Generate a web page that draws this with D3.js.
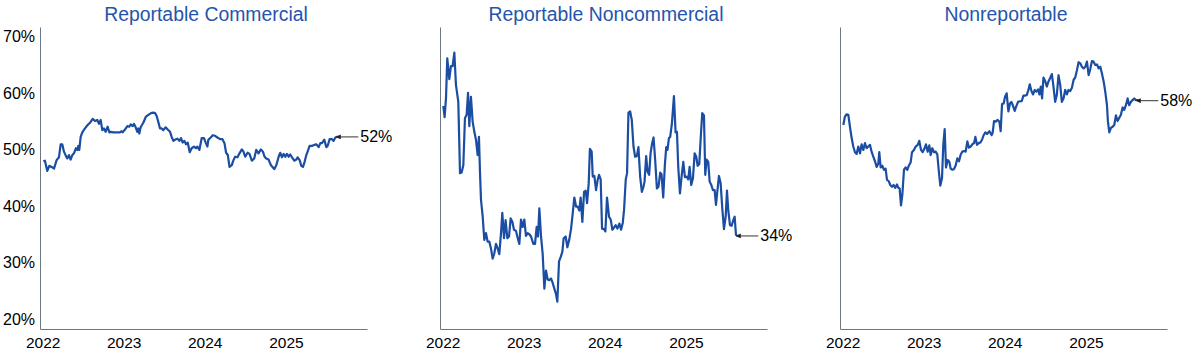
<!DOCTYPE html>
<html><head><meta charset="utf-8">
<script src="https://cdn.jsdelivr.net/npm/d3@7"></script>
<style>
body{margin:0;background:#fff}
svg{display:block;font-family:Arial,"Liberation Sans",Helvetica,sans-serif}
</style>
</head><body>
<svg id="chart" width="1201" height="355"></svg>
<script>
const panelTitles = ["Reportable Commercial", "Reportable Noncommercial", "Nonreportable"];
const yTickValues = [20, 30, 40, 50, 60, 70];
const xTickYears = [2022, 2023, 2024, 2025];
const endLabels = ["52%", "34%", "58%"];

// [decimal year, percent]
const commercial = [
[2022.008,48.4],[2022.028,48.5],[2022.057,46.7],[2022.082,47.6],[2022.111,47.4],[2022.140,47.1],[2022.172,48.6],[2022.201,49.1],
[2022.222,51.4],[2022.242,51.4],[2022.263,50.1],[2022.288,49.3],[2022.304,48.9],[2022.325,49.5],[2022.345,48.7],[2022.366,49.5],
[2022.386,49.8],[2022.411,50.7],[2022.428,50.4],[2022.440,51.1],[2022.452,50.4],[2022.469,52.7],[2022.489,53.5],[2022.522,54.2],
[2022.555,54.8],[2022.584,55.2],[2022.617,55.9],[2022.646,55.5],[2022.674,55.7],[2022.695,55.0],[2022.716,55.7],[2022.736,53.9],
[2022.757,54.2],[2022.777,53.6],[2022.802,54.5],[2022.823,53.5],[2022.843,53.6],[2022.872,53.5],[2022.954,53.5],[2022.975,53.7],
[2022.987,53.5],[2023.016,54.0],[2023.045,54.6],[2023.069,54.5],[2023.086,54.9],[2023.111,54.6],[2023.127,55.0],[2023.148,54.4],
[2023.168,53.6],[2023.181,54.2],[2023.193,53.3],[2023.209,54.4],[2023.242,55.2],[2023.275,56.3],[2023.304,56.6],[2023.337,56.9],
[2023.366,57.0],[2023.387,56.9],[2023.407,56.4],[2023.432,55.1],[2023.448,54.2],[2023.469,54.2],[2023.489,53.9],[2023.518,54.4],
[2023.543,54.0],[2023.572,53.6],[2023.592,52.7],[2023.613,52.0],[2023.633,52.2],[2023.662,52.4],[2023.687,52.0],[2023.707,52.5],
[2023.728,51.7],[2023.749,52.0],[2023.769,51.4],[2023.790,51.7],[2023.815,50.0],
[2023.839,50.7],[2023.868,51.0],[2023.893,50.7],[2023.909,51.0],[2023.934,50.4],[2023.963,52.5],[2023.991,52.5],[2024.012,51.7],
[2024.033,51.0],[2024.045,52.2],[2024.074,52.6],[2024.099,53.0],[2024.127,52.9],[2024.156,52.6],[2024.189,52.3],[2024.218,52.3],
[2024.243,51.6],[2024.263,49.9],[2024.284,49.5],[2024.305,47.4],[2024.333,47.7],[2024.354,48.6],[2024.374,49.2],[2024.403,49.1],
[2024.428,49.8],[2024.457,50.5],[2024.477,50.1],[2024.498,49.2],[2024.527,49.9],[2024.551,49.7],[2024.580,48.5],[2024.609,48.9],
[2024.634,50.4],[2024.662,49.8],[2024.691,50.5],[2024.716,50.1],[2024.737,49.2],[2024.757,48.9],[2024.786,48.7],[2024.815,47.7],
[2024.840,47.3],[2024.856,47.0],[2024.881,47.7],[2024.910,49.2],[2024.930,49.9],[2024.951,49.1],[2024.971,49.7],[2024.992,49.2],
[2025.012,49.7],[2025.033,49.2],[2025.053,49.6],[2025.074,49.1],[2025.103,48.5],[2025.128,48.7],[2025.144,49.1],[2025.169,48.6],
[2025.189,47.6],[2025.210,47.4],[2025.230,48.3],[2025.251,49.5],[2025.267,50.1],[2025.292,51.1],[2025.321,51.1],[2025.350,51.3],
[2025.374,51.4],[2025.403,50.9],[2025.424,51.6],[2025.444,51.6],[2025.473,52.2],[2025.498,50.9],[2025.514,51.1],[2025.539,52.3],
[2025.568,52.3],[2025.588,52.0],[2025.609,52.6],[2025.630,52.7],[2025.658,52.7]
];

const noncommercial = [
[2022.008,58.2],[2022.024,56.2],[2022.041,59.5],[2022.057,66.6],[2022.082,62.9],[2022.102,65.2],[2022.123,65.2],[2022.144,67.6],
[2022.164,61.9],[2022.193,58.9],[2022.214,46.3],[2022.234,46.4],[2022.255,47.7],[2022.275,56.0],[2022.296,56.6],[2022.313,60.5],
[2022.329,54.6],[2022.349,59.8],[2022.370,55.4],[2022.391,53.6],[2022.411,52.2],[2022.432,49.5],[2022.448,52.7],[2022.461,46.3],
[2022.473,41.6],[2022.494,38.6],[2022.514,34.5],[2022.535,35.7],[2022.555,34.2],[2022.576,34.2],[2022.596,33.0],[2022.617,31.2],
[2022.637,32.1],[2022.658,33.8],[2022.679,33.0],[2022.699,32.0],[2022.720,35.7],[2022.736,39.3],[2022.757,34.8],[2022.777,38.0],
[2022.798,34.8],[2022.819,35.1],[2022.839,38.3],[2022.860,37.7],[2022.880,36.3],[2022.905,36.1],[2022.921,35.1],[2022.946,33.8],
[2022.967,38.1],[2022.987,36.8],[2023.008,38.1],[2023.028,35.2],[2023.049,35.7],[2023.069,35.5],[2023.090,35.1],[2023.119,33.8],
[2023.140,33.8],[2023.160,36.8],[2023.177,35.1],[2023.193,40.1],[2023.214,35.1],[2023.234,32.1],[2023.255,25.9],[2023.275,29.1],
[2023.296,27.5],[2023.316,27.4],[2023.337,27.7],[2023.358,26.9],[2023.378,25.9],[2023.399,24.9],[2023.415,23.6],[2023.436,30.7],
[2023.457,31.5],[2023.477,32.4],[2023.493,34.8],[2023.518,35.1],[2023.539,33.2],[2023.563,34.6],[2023.584,36.4],[2023.605,39.2],
[2023.625,42.0],[2023.646,40.4],[2023.666,40.4],[2023.687,39.7],[2023.703,42.0],[2023.724,37.7],[2023.745,43.0],[2023.765,43.2],
[2023.782,41.0],[2023.802,44.4],[2023.817,50.6],
[2023.839,50.1],[2023.852,45.7],[2023.872,45.8],[2023.893,43.3],[2023.913,45.1],[2023.930,46.0],[2023.950,45.2],[2023.967,36.5],
[2023.991,36.4],[2024.008,36.0],[2024.028,42.0],[2024.053,38.6],[2024.074,38.1],[2024.094,36.3],[2024.115,36.7],[2024.135,37.1],
[2024.156,36.5],[2024.181,37.4],[2024.201,36.3],[2024.222,37.5],[2024.238,39.8],[2024.259,45.2],[2024.275,46.3],[2024.292,57.0],
[2024.313,57.2],[2024.333,55.7],[2024.354,51.0],[2024.374,49.2],[2024.395,49.3],[2024.415,50.9],[2024.436,45.7],[2024.457,43.0],
[2024.477,43.9],[2024.490,44.8],[2024.510,49.3],[2024.527,46.6],[2024.547,46.0],[2024.564,49.8],[2024.584,51.6],[2024.601,52.6],
[2024.621,48.6],[2024.642,43.6],[2024.662,43.9],[2024.683,46.4],[2024.699,46.1],[2024.720,42.0],[2024.740,47.7],[2024.757,50.9],
[2024.773,50.4],[2024.790,52.5],[2024.806,52.7],[2024.827,55.1],[2024.852,59.9],[2024.872,53.5],[2024.889,53.6],[2024.905,47.4],
[2024.926,42.7],[2024.946,45.7],[2024.967,48.3],[2024.987,45.6],[2025.008,45.7],[2025.028,45.2],[2025.045,47.4],[2025.065,44.2],
[2025.086,45.4],[2025.107,49.8],[2025.127,49.2],[2025.144,47.6],[2025.164,47.9],[2025.185,53.3],[2025.201,56.9],[2025.222,56.5],
[2025.238,46.0],[2025.255,48.7],[2025.275,48.3],[2025.292,44.8],[2025.313,44.2],[2025.333,43.3],[2025.354,43.3],[2025.370,40.7],
[2025.391,43.6],[2025.407,45.8],[2025.428,44.5],[2025.448,40.1],[2025.469,36.4],[2025.490,38.6],[2025.506,43.2],[2025.522,39.7],
[2025.543,37.1],[2025.563,37.0],[2025.584,38.0],[2025.601,38.6],[2025.617,35.4],[2025.638,35.2],[2025.658,35.2]
];

const nonreportable = [
[2022.008,54.8],[2022.028,56.3],[2022.049,56.7],[2022.070,56.6],[2022.090,54.5],[2022.111,52.5],[2022.131,51.0],[2022.152,50.0],
[2022.172,49.7],[2022.193,51.0],[2022.214,49.8],[2022.234,51.4],[2022.255,50.4],[2022.275,51.6],[2022.296,50.7],[2022.316,51.0],
[2022.337,51.3],[2022.357,50.1],[2022.378,49.2],[2022.399,48.4],[2022.419,47.4],[2022.440,48.0],[2022.452,50.0],[2022.469,47.3],
[2022.489,47.6],[2022.510,46.9],[2022.530,47.1],[2022.547,45.1],[2022.568,44.9],[2022.588,44.2],[2022.609,43.9],[2022.629,44.2],
[2022.650,43.7],[2022.670,44.3],[2022.687,43.7],[2022.703,43.6],[2022.720,40.6],[2022.736,42.4],[2022.757,46.9],[2022.777,47.3],
[2022.798,46.9],[2022.819,47.7],[2022.839,48.2],[2022.856,50.0],[2022.880,50.4],[2022.901,51.0],[2022.926,51.3],[2022.946,52.0],
[2022.967,50.4],[2022.987,50.0],[2023.008,50.6],[2023.028,51.4],[2023.049,50.1],[2023.069,51.2],[2023.086,49.5],[2023.106,50.7],
[2023.127,50.0],[2023.148,50.1],[2023.168,49.6],[2023.185,46.9],[2023.205,44.1],[2023.226,45.4],[2023.242,51.4],[2023.259,54.1],
[2023.275,47.3],[2023.296,48.6],[2023.316,48.3],[2023.333,47.1],[2023.354,46.9],[2023.374,47.0],[2023.395,47.7],[2023.415,48.9],
[2023.436,48.4],[2023.457,49.6],[2023.477,50.1],[2023.498,50.2],[2023.518,50.1],[2023.539,51.9],[2023.559,50.8],[2023.580,51.0],
[2023.600,51.4],[2023.621,51.6],[2023.638,52.7],[2023.658,51.3],[2023.679,51.6],[2023.699,51.7],[2023.720,52.2],[2023.740,53.0],
[2023.761,53.5],[2023.782,53.2],[2023.812,53.7],
[2023.839,53.0],[2023.852,53.5],[2023.868,55.5],[2023.889,55.4],[2023.909,55.7],[2023.934,55.4],[2023.950,53.7],[2023.967,58.5],
[2023.987,58.6],[2024.004,59.8],[2024.024,60.4],[2024.045,57.2],[2024.065,58.6],[2024.082,58.9],[2024.102,58.2],[2024.123,57.3],
[2024.139,58.0],[2024.164,58.9],[2024.189,59.0],[2024.209,59.0],[2024.230,60.0],[2024.251,60.0],[2024.271,60.1],[2024.292,61.0],
[2024.308,62.0],[2024.329,60.8],[2024.349,60.2],[2024.370,61.0],[2024.390,60.7],[2024.411,61.1],[2024.427,60.2],[2024.444,61.6],
[2024.460,59.5],[2024.477,63.2],[2024.497,62.6],[2024.518,61.6],[2024.539,62.5],[2024.559,63.1],[2024.580,63.8],[2024.600,61.6],
[2024.621,58.9],[2024.641,60.1],[2024.662,63.6],[2024.683,61.9],[2024.703,58.9],[2024.724,59.5],[2024.744,61.0],[2024.765,60.2],
[2024.785,61.0],[2024.806,60.8],[2024.827,61.4],[2024.848,62.8],[2024.868,63.2],[2024.889,64.5],[2024.909,65.9],[2024.930,65.7],
[2024.950,65.1],[2024.971,64.8],[2024.992,65.1],[2025.012,66.0],[2025.033,63.6],[2025.053,64.7],[2025.074,66.1],[2025.094,66.0],
[2025.115,65.4],[2025.136,65.5],[2025.156,64.8],[2025.177,65.1],[2025.197,63.9],[2025.218,62.5],[2025.238,60.7],[2025.259,58.3],
[2025.271,55.4],[2025.288,53.5],[2025.308,54.3],[2025.329,54.5],[2025.349,54.8],[2025.370,56.5],[2025.390,55.5],[2025.411,56.1],
[2025.431,56.6],[2025.452,57.9],[2025.472,57.5],[2025.493,58.3],[2025.514,59.5],[2025.534,58.3],[2025.555,58.9],[2025.575,59.2],
[2025.596,59.5],[2025.617,59.2],[2025.637,59.2],[2025.658,59.1]
];

const seriesList = [commercial, noncommercial, nonreportable];

function toDate(d) {
  const yr = Math.floor(d);
  const s = new Date(yr, 0, 1), e = new Date(yr + 1, 0, 1);
  return new Date(+s + (d - yr) * (e - s));
}

const svg = d3.select("#chart");
const lineColor = "#1b4da2";
const titleColor = "#2654ab";
const axisColor = "#6e7882";

const x = d3.scaleTime().domain([new Date(2021, 11, 20), new Date(2026, 0, 1)]).range([40, 367]);
const y = d3.scaleLinear().domain([20, 70]).range([322, 39]);
const yAxisScale = d3.scaleLinear().domain([y.invert(329), y.invert(27)]).range([329, 27]);

svg.append("defs").append("marker")
  .attr("id", "arrow").attr("viewBox", "0 0 10 10")
  .attr("refX", 1).attr("refY", 5)
  .attr("markerWidth", 5).attr("markerHeight", 5)
  .attr("orient", "auto-start-reverse")
  .append("path").attr("d", "M0,0L10,5L0,10z").attr("fill", "#222");

const line = d3.line()
  .x(d => x(toDate(d[0])))
  .y(d => y(d[1]));

seriesList.forEach((data, i) => {
  const g = svg.append("g").attr("transform", `translate(${i * 400},0)`);

  g.append("text")
    .attr("x", 206).attr("y", 21)
    .attr("text-anchor", "middle")
    .attr("font-size", 19.4)
    .attr("fill", titleColor)
    .text(panelTitles[i]);

  // x axis
  const xa = g.append("g").attr("transform", "translate(0,329)")
    .call(d3.axisBottom(x)
      .tickValues(xTickYears.map(yr => new Date(yr, 0, 1)))
      .tickFormat(d3.timeFormat("%Y"))
      .tickSize(0).tickSizeOuter(0).tickPadding(8.3));
  xa.select(".domain").attr("stroke", axisColor);
  xa.selectAll("text").attr("font-size", 15.5).attr("fill", "#000").attr("font-family", null);

  // y axis
  const ya = g.append("g").attr("transform", "translate(40,0)")
    .call(d3.axisLeft(yAxisScale).tickValues([]).tickSizeOuter(0));
  ya.select(".domain").attr("stroke", axisColor);

  if (i === 0) {
    g.selectAll(".ylab").data(yTickValues).join("text")
      .attr("class", "ylab")
      .attr("x", 3).attr("y", d => y(d) + 3)
      .attr("font-size", 16).attr("fill", "#000")
      .text(d => d + "%");
  }

  g.append("path").datum(data)
    .attr("fill", "none")
    .attr("stroke", lineColor)
    .attr("stroke-width", 2.2)
    .attr("stroke-linejoin", "round")
    .attr("d", line);

  const last = data[data.length - 1];
  const lx = x(toDate(last[0])), ly = y(last[1]);
  g.append("line")
    .attr("x1", lx + 1).attr("x2", lx + 19)
    .attr("y1", ly).attr("y2", ly)
    .attr("stroke", "#333").attr("stroke-width", 1)
    .attr("marker-start", "url(#arrow)");
  g.append("text")
    .attr("x", lx + 21).attr("y", ly + 5.5)
    .attr("font-size", 16).attr("fill", "#000")
    .text(endLabels[i]);
});
</script>
</body></html>
